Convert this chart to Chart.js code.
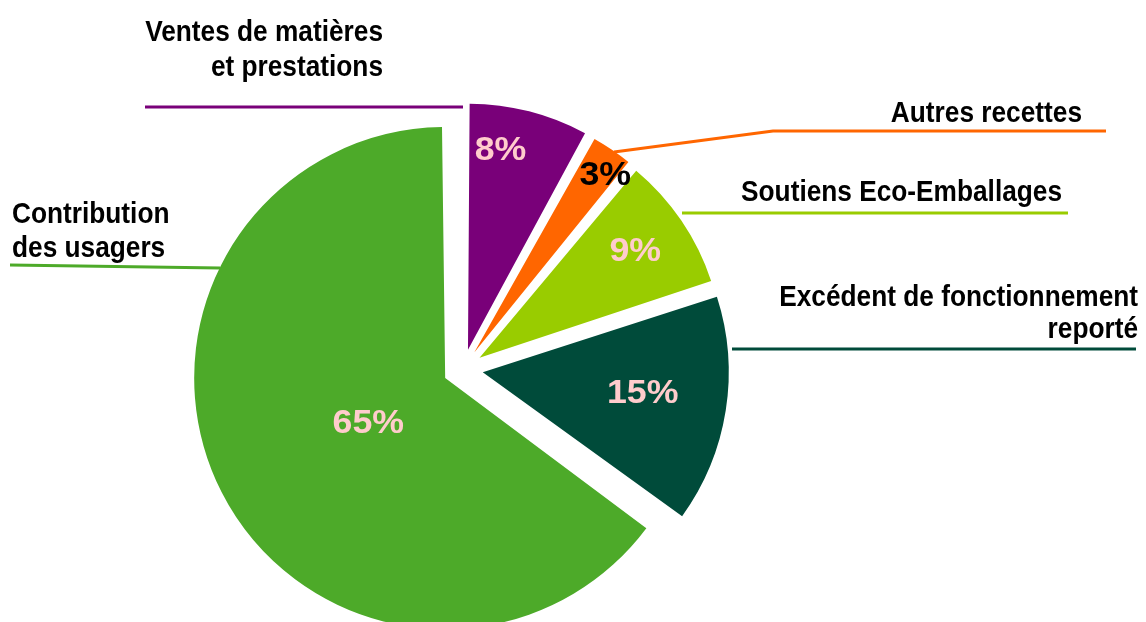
<!DOCTYPE html>
<html><head><meta charset="utf-8">
<script src="https://cdn.jsdelivr.net/npm/chart.js@4/dist/chart.umd.min.js"></script>
<style>html,body{margin:0;padding:0;background:#fff;overflow:hidden}#wrap{width:1146px;height:622px;position:relative}canvas{display:block}</style>
</head><body><div id="wrap"><canvas id="c" width="1146" height="622"></canvas></div>
<script>
// ---- data ----
const categories = ["Ventes de matières et prestations", "Autres recettes", "Soutiens Eco-Emballages", "Excédent de fonctionnement reporté", "Contribution des usagers"];
const shares = [8, 3, 9, 15, 65];
const labelLines = [["Ventes de matières", "et prestations"], ["Autres recettes"], ["Soutiens Eco-Emballages"], ["Excédent de fonctionnement", "reporté"], ["Contribution", "des usagers"]];

// ---- styles ----
const colors = ['#790079', '#FF6600', '#99CC00', '#004B3A', '#4DAA29'];
const pctColors = ['#FFCCCC', '#000000', '#FFCCCC', '#FFCCCC', '#FFCCCC'];
const OFFSET = 80;               // Chart.js moves a slice by offset/4 px
const sliceRadius = [246, 245, 244, 246, 251];
const pctPlace = [{r: 224, d: -4.75}, {r: 242, d: 1.8}, {r: 210, d: -0.7}, {r: 181, d: -2.2}, {r: 108, d: -1.7}];
const FONT = '"Liberation Sans", Arial, sans-serif';

// category label layout: anchor x, align, first baseline, line step
const catPlace = [
  {x: 383, align: 'right', y: 41, step: 35},
  {x: 1082, align: 'right', y: 122, step: 34},
  {x: 1062, align: 'right', y: 201, step: 34},
  {x: 1138, align: 'right', y: 306, step: 32},
  {x: 12, align: 'left', y: 223, step: 34}
];
// leader lines (polyline points)
const leaders = [
  [[145, 107], [463, 107]],
  [[1106, 131], [773, 131], [614, 152]],
  [[1068, 213], [682, 213]],
  [[1136, 349], [732, 349]],
  [[10, 265], [220, 268]]
];

function drawText(ctx, txt, x, y, size, align, sx, color) {
  ctx.save();
  ctx.translate(x, y);
  ctx.scale(sx, 1);
  ctx.font = 'bold ' + size + 'px ' + FONT;
  ctx.textAlign = align;
  ctx.textBaseline = 'alphabetic';
  ctx.fillStyle = color;
  ctx.fillText(txt, 0, 0);
  ctx.restore();
}

const radiusFix = {
  id: 'radiusFix',
  afterDatasetUpdate(chart, args) {
    const meta = chart.getDatasetMeta(args.index);
    meta.data.forEach((el, i) => {
      const circ = el.endAngle - el.startAngle;
      const fix = 1 - Math.sin(Math.min(Math.PI, circ));
      el.outerRadius = sliceRadius[i] - (OFFSET / 4) * fix;
    });
  }
};

const labelsPlugin = {
  id: 'labelsPlugin',
  afterDraw(chart) {
    const ctx = chart.ctx;
    const meta = chart.getDatasetMeta(0);
    const total = shares.reduce((a, b) => a + b, 0);
    // leader lines
    leaders.forEach((pts, i) => {
      ctx.save();
      ctx.strokeStyle = colors[i];
      ctx.lineWidth = 3;
      ctx.lineJoin = 'miter';
      ctx.beginPath();
      pts.forEach((p, k) => k ? ctx.lineTo(p[0], p[1]) : ctx.moveTo(p[0], p[1]));
      ctx.stroke();
      ctx.restore();
    });
    // category labels
    labelLines.forEach((lines, i) => {
      const p = catPlace[i];
      lines.forEach((t, k) => drawText(ctx, t, p.x, p.y + k * p.step, 30, p.align, 0.875, '#000'));
    });
    // percentages
    meta.data.forEach((el, i) => {
      const mid = (el.startAngle + el.endAngle) / 2 + pctPlace[i].d * Math.PI / 180;
      const t = OFFSET / 4;
      const half = (el.startAngle + el.endAngle) / 2;
      const cx = el.x + Math.cos(half) * t * 0; // label radii measured from pie centre
      const x = el.x + Math.cos(mid) * pctPlace[i].r;
      const y = el.y + Math.sin(mid) * pctPlace[i].r;
      const size = 34;
      const txt = Math.round(shares[i] / total * 100) + '%';
      drawText(ctx, txt, x, y + size * 0.716 / 2, size, 'center', 1.05, pctColors[i]);
    });
  }
};

new Chart(document.getElementById('c'), {
  type: 'pie',
  data: {
    labels: categories,
    datasets: [{
      data: shares,
      backgroundColor: colors,
      borderWidth: 0,
      offset: OFFSET,
      clip: false
    }]
  },
  options: {
    responsive: false,
    animation: false,
    events: [],
    rotation: 0,
    radius: 240,
    layout: {padding: {left: 0, right: 220, top: 116, bottom: 0}},
    plugins: {legend: {display: false}, tooltip: {enabled: false}, title: {display: false}}
  },
  plugins: [radiusFix, labelsPlugin]
});
</script>
</body></html>
